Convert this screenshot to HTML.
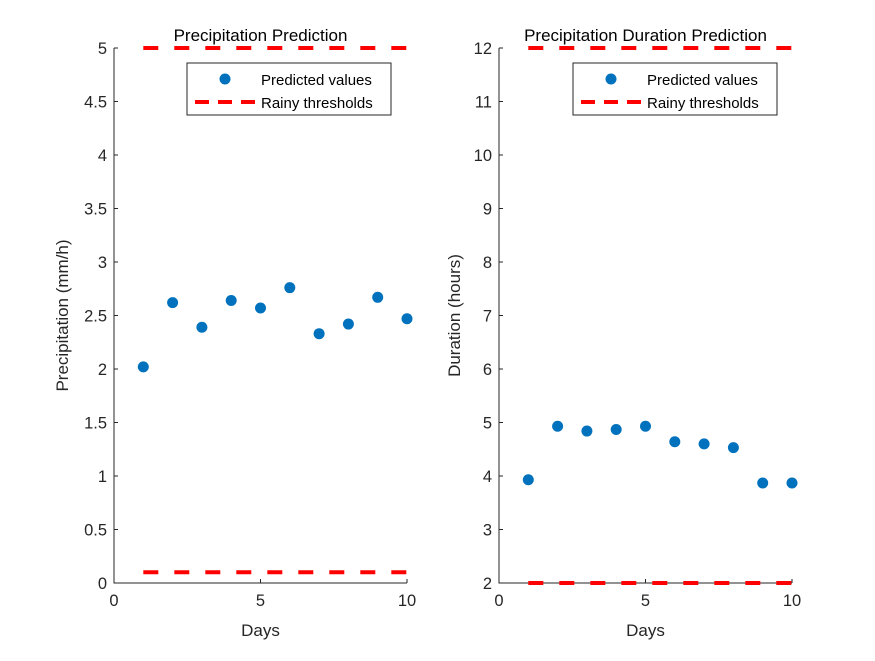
<!DOCTYPE html>
<html><head><meta charset="utf-8"><style>
body{margin:0;background:#fff}
svg{font-family:"Liberation Sans",Arial,sans-serif}
</style></head><body>
<svg id="c" width="875" height="656" xmlns="http://www.w3.org/2000/svg"></svg>
<script>
const days=[1,2,3,4,5,6,7,8,9,10];
const precip=[2.02,2.62,2.39,2.64,2.57,2.76,2.33,2.42,2.67,2.47];
const duration=[3.93,4.93,4.84,4.87,4.93,4.64,4.60,4.53,3.87,3.87];
const precipThresholds=[0.1,5];
const durationThresholds=[2,12];
const xTicks=[0,5,10];
const precipTicks=[0,0.5,1,1.5,2,2.5,3,3.5,4,4.5,5];
const durTicks=[2,3,4,5,6,7,8,9,10,11,12];
const NS="http://www.w3.org/2000/svg";
const svg=document.getElementById('c');
function mk(tag,attrs,parent){const e=document.createElementNS(NS,tag);for(const k in attrs)e.setAttribute(k,attrs[k]);(parent||svg).appendChild(e);return e;}
function panel(o){
  const g=mk('g',{});
  
  
  const sx=v=>o.x0+(v-0)/10*(o.x1-o.x0);
  const sy=v=>o.y0-(v-o.ymin)/(o.ymax-o.ymin)*(o.y0-o.y1);
  const ax=mk('path',{d:`M${o.x0},${o.y1}V${o.y0}H${o.x1}`,stroke:'#262626','stroke-width':1,fill:'none'},g);
  
  
  o.yticks.forEach(t=>{
    const y=sy(t);
    mk('line',{x1:o.x0,x2:o.x0+4,y1:y,y2:y,stroke:'#262626'},g);
    const tx=mk('text',{x:o.x0-7,y:y+6,'text-anchor':'end','font-size':16.5,fill:'#262626'},g);
    tx.textContent=String(t);
    
    
  });
  xTicks.forEach(t=>{
    const x=sx(t);
    mk('line',{x1:x,x2:x,y1:o.y0,y2:o.y0-4,stroke:'#262626'},g);
    const tx=mk('text',{x:x,y:o.y0+23,'text-anchor':'middle','font-size':16.5,fill:'#262626'},g);
    tx.textContent=String(t);
    
    
  });
  o.thr.forEach(v=>{
    const l=mk('line',{x1:sx(days[0]),x2:sx(days[days.length-1]),y1:sy(v),y2:sy(v),stroke:'#ff0000','stroke-width':4,'stroke-dasharray':'15,16'},g);
    
    
  });
  days.forEach((d,i)=>{
    const c=mk('circle',{cx:sx(d),cy:sy(o.vals[i]),r:5.5,fill:'#0072bd'},g);
    
    
  });
  const ti=mk('text',{x:(o.x0+o.x1)/2,y:41,'text-anchor':'middle','font-size':17,fill:'#000'},g);
  ti.textContent=o.title;
  
  
  const xl=mk('text',{x:(o.x0+o.x1)/2,y:636,'text-anchor':'middle','font-size':17,fill:'#262626'},g);
  xl.textContent='Days';
  
  
  const yx=o.x0-o.ylOff, yy=(o.y0+o.y1)/2;
  const yl=mk('text',{x:yx,y:yy,'text-anchor':'middle','font-size':17,fill:'#262626',transform:`rotate(-90 ${yx} ${yy})`},g);
  yl.textContent=o.ylabel;
  
  
  const lg=mk('g',{},g);
  
  
  const lx=o.legX,ly=63;
  mk('rect',{x:lx,y:ly,width:204,height:52,fill:'#fff',stroke:'#262626','stroke-width':1},lg);
  mk('circle',{cx:lx+38,cy:ly+16,r:5.5,fill:'#0072bd'},lg);
  const t1=mk('text',{x:lx+74,y:ly+22,'font-size':15,fill:'#000'},lg);t1.textContent='Predicted values';
  
  
  mk('line',{x1:lx+8,x2:lx+68,y1:ly+39,y2:ly+39,stroke:'#ff0000','stroke-width':4,'stroke-dasharray':'14,9'},lg);
  const t2=mk('text',{x:lx+74,y:ly+45,'font-size':15,fill:'#000'},lg);t2.textContent='Rainy thresholds';
  
  
}
panel({name:'precipitation-panel',x0:114,x1:407,y0:583,y1:48,ymin:0,ymax:5,yticks:precipTicks,vals:precip,thr:precipThresholds,title:'Precipitation Prediction',ylabel:'Precipitation (mm/h)',ylOff:46,legX:187});
panel({name:'duration-panel',x0:499,x1:792,y0:583,y1:48,ymin:2,ymax:12,yticks:durTicks,vals:duration,thr:durationThresholds,title:'Precipitation Duration Prediction',ylabel:'Duration (hours)',ylOff:39,legX:573});
</script>
</body></html>
